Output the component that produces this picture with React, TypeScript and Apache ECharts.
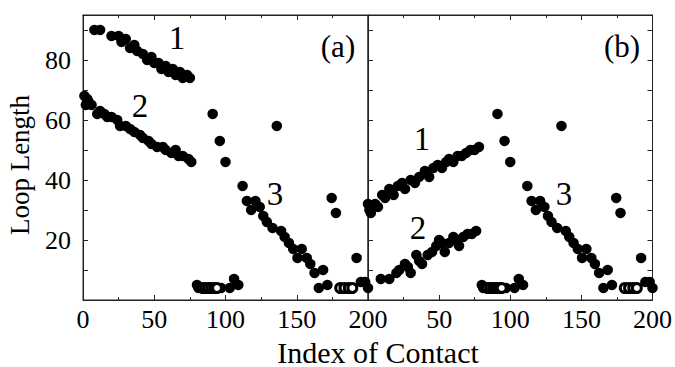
import React, { useEffect, useRef } from "react";
import * as echarts from "echarts";

// Panel (a): descending clusters 1 and 2 (Index of Contact, Loop Length)
const aCluster1X = [8, 12, 20, 25, 27, 30, 33, 36, 38, 42, 45, 48, 50, 53, 55, 58, 60, 63, 65, 68, 70, 73, 75];
const aCluster1Y = [90, 90, 88, 88, 86, 87, 84, 85, 83, 82, 80, 81, 79, 79, 77, 78, 76, 77, 75, 76, 74, 75, 74];
const aCluster2X = [1, 2, 3, 4, 6, 10, 12, 15, 17, 20, 24, 26, 30, 33, 36, 40, 42, 46, 48, 52, 56, 58, 62, 65, 67, 70, 74, 76];
const aCluster2Y = [68, 65, 67, 66, 65, 62, 63, 62, 61, 61, 60, 58, 58, 57, 56, 55, 54, 53, 52, 51, 51, 50, 49, 50, 48, 48, 47, 46];

// Panel (b): ascending clusters 1 and 2
const bCluster1X = [0, 1, 2, 3, 5, 7, 10, 12, 15, 18, 21, 24, 26, 30, 33, 36, 40, 43, 46, 49, 52, 55, 57, 60, 63, 66, 69, 72, 75, 78];
const bCluster1Y = [32, 30, 29, 31, 32, 31, 35, 34, 37, 35, 38, 39, 37, 40, 39, 41, 43, 41, 44, 45, 44, 46, 47, 46, 48, 48, 49, 50, 50, 51];
const bCluster2X = [9, 15, 20, 22, 26, 28, 30, 34, 36, 38, 42, 45, 48, 50, 52, 54, 57, 60, 62, 64, 67, 70, 73, 76];
const bCluster2Y = [7, 7, 9, 10, 12, 11, 9, 15, 13, 12, 15, 16, 18, 20, 19, 16, 19, 21, 20, 18, 21, 22, 22, 23];

// Shared points (cluster 3 and scattered), filled
const sharedX = [80, 81, 97, 103, 106, 109, 91, 96, 100, 136, 112, 115, 118, 121, 124, 126.5, 129, 133, 139, 141.5, 144.5, 147.5, 150.5, 153.5, 157, 159.5, 162.5, 165.5, 168.5, 171.5, 174.5, 177.5, 192, 195, 198, 200];
const sharedY = [5, 4, 4, 4, 7, 5, 62, 53, 46, 58, 38, 33, 30, 33, 31, 28, 26, 24, 23, 21, 19, 17, 14, 17, 14, 12, 9, 4, 10, 5, 34, 29, 14, 6, 6, 4];
// Shared open circles
const openX = [84, 86, 88, 90, 92, 94, 180.5, 183.5, 186.5, 189];
const openY = [4, 4, 4, 4, 4, 4, 4, 4, 4, 4];

const xTicksLabelled = [0, 50, 100, 150, 200];
const yTicksLabelled = [20, 40, 60, 80];

const FONT = "'Liberation Serif', 'Times New Roman', serif";

function zip(xs: number[], ys: number[]) {
  return xs.map((x, i) => [x, ys[i]]);
}

export default function App() {
  const ref = useRef<HTMLDivElement>(null);
  useEffect(() => {
    if (!ref.current) return;
    const chart = echarts.init(ref.current, null, { renderer: "svg" });
    const lineStyle = { color: "#222", width: 1 };
    const xBase = (gridIndex: number, position: string, labelled: boolean, hideZero: boolean) => ({
      type: "value",
      gridIndex,
      position,
      min: 0,
      max: 200,
      interval: 50,
      axisLine: { show: true, onZero: false, lineStyle },
      axisTick: { show: true, inside: true, length: 5, lineStyle },
      minorTick: { show: true, splitNumber: 2, length: 3, lineStyle },
      splitLine: { show: false },
      axisLabel: {
        show: labelled,
        margin: 6,
        color: "#000",
        fontFamily: FONT,
        fontSize: 26,
        formatter: (v: number) => (hideZero && v === 0 ? "" : xTicksLabelled.includes(v) ? String(v) : ""),
      },
    });
    const yBase = (gridIndex: number, position: string, labelled: boolean) => ({
      type: "value",
      gridIndex,
      position,
      min: 0,
      max: 95,
      interval: 10,
      axisLine: { show: true, onZero: false, lineStyle },
      axisTick: { show: true, inside: true, length: 5, lineStyle },
      splitLine: { show: false },
      axisLabel: {
        show: labelled,
        margin: 12,
        color: "#000",
        fontFamily: FONT,
        fontSize: 26,
        formatter: (v: number) => (yTicksLabelled.includes(v) ? String(v) : ""),
      },
    });
    const filled = { color: "#000", opacity: 1 };
    const open = { color: "#fff", borderColor: "#000", borderWidth: 3, opacity: 1 };
    const txt = (text: string, x: number, y: number, size: number) => ({
      type: "text",
      x,
      y,
      style: {
        text,
        fill: "#000",
        font: `${size}px ${FONT}`,
        textAlign: "center",
        textVerticalAlign: "middle",
      },
    });
    chart.setOption({
      animation: false,
      grid: [
        { left: 83, right: 307, top: 15, bottom: 67, show: true, borderColor: "#222", borderWidth: 1, backgroundColor: "transparent" },
        { left: 368, right: 21, top: 15, bottom: 67, show: true, borderColor: "#222", borderWidth: 1, backgroundColor: "transparent" },
      ],
      xAxis: [
        xBase(0, "bottom", true, false),
        xBase(0, "top", false, false),
        xBase(1, "bottom", true, true),
        xBase(1, "top", false, false),
      ],
      yAxis: [yBase(0, "left", true), yBase(1, "left", false), yBase(1, "right", false)],
      series: [
        { type: "scatter", xAxisIndex: 0, yAxisIndex: 0, symbolSize: 10.5, itemStyle: filled, data: zip(aCluster1X, aCluster1Y) },
        { type: "scatter", xAxisIndex: 0, yAxisIndex: 0, symbolSize: 10.5, itemStyle: filled, data: zip(aCluster2X, aCluster2Y) },
        { type: "scatter", xAxisIndex: 0, yAxisIndex: 0, symbolSize: 10.5, itemStyle: filled, data: zip(sharedX, sharedY) },
        { type: "scatter", xAxisIndex: 0, yAxisIndex: 0, symbolSize: 9, itemStyle: open, data: zip(openX, openY) },
        { type: "scatter", xAxisIndex: 2, yAxisIndex: 1, symbolSize: 10.5, itemStyle: filled, data: zip(bCluster1X, bCluster1Y) },
        { type: "scatter", xAxisIndex: 2, yAxisIndex: 1, symbolSize: 10.5, itemStyle: filled, data: zip(bCluster2X, bCluster2Y) },
        { type: "scatter", xAxisIndex: 2, yAxisIndex: 1, symbolSize: 10.5, itemStyle: filled, data: zip(sharedX, sharedY) },
        { type: "scatter", xAxisIndex: 2, yAxisIndex: 1, symbolSize: 9, itemStyle: open, data: zip(openX, openY) },
      ],
      graphic: [
        txt("(a)", 338, 46, 31),
        txt("(b)", 622, 46, 31),
        txt("1", 177, 38, 33),
        txt("2", 140, 106, 33),
        txt("3", 275, 194, 33),
        txt("1", 422, 139, 33),
        txt("2", 418, 228, 33),
        txt("3", 564, 194, 33),
        txt("Index of Contact", 378, 352, 30),
        {
          type: "text",
          x: 20,
          y: 165,
          rotation: Math.PI / 2,
          style: {
            text: "Loop Length",
            fill: "#000",
            font: `27px ${FONT}`,
            textAlign: "center",
            textVerticalAlign: "middle",
          },
        },
      ],
    });
    return () => chart.dispose();
  }, []);
  return (
    <div
      ref={ref}
      style={{ position: "fixed", left: 0, top: 0, width: 675, height: 367, background: "#fff" }}
    />
  );
}
